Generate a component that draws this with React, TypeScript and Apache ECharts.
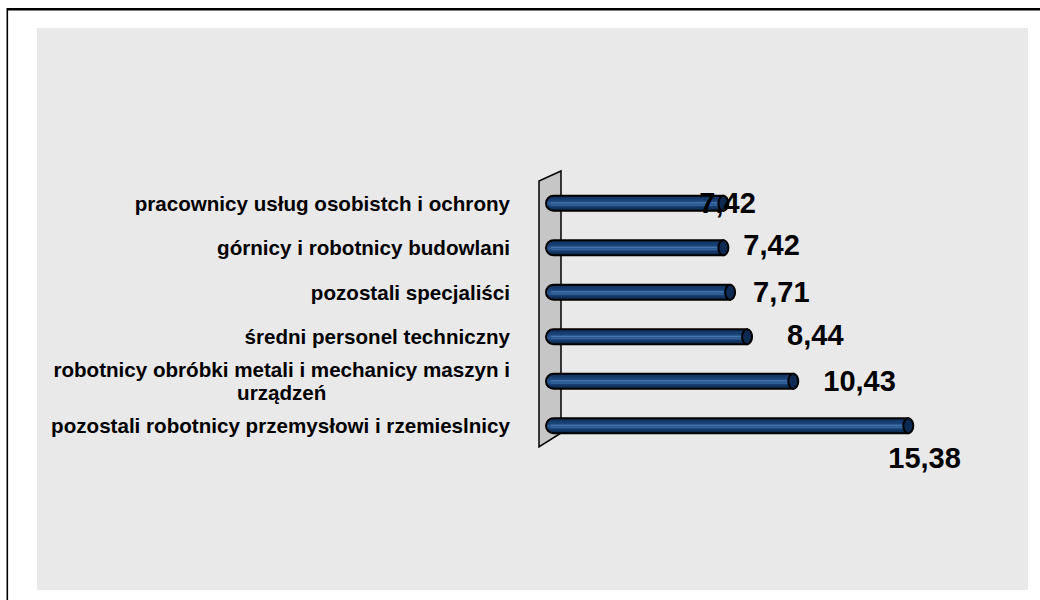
import React, { useEffect, useRef } from 'react';
import * as echarts from 'echarts';

const categories = [
  'pracownicy usług osobistch i ochrony',
  'górnicy i robotnicy budowlani',
  'pozostali specjaliści',
  'średni personel techniczny',
  'robotnicy obróbki metali i mechanicy maszyn i\nurządzeń',
  'pozostali robotnicy przemysłowi i rzemieslnicy',
];
const values = [7.42, 7.42, 7.71, 8.44, 10.43, 15.38];
const valueLabels = ['7,42', '7,42', '7,71', '8,44', '10,43', '15,38'];
// label placement relative to the bar end (dx) and bar centre (dy)
const labelDx = [-29, 15, 18, 35, 25, -25];
const labelDy = [0, -3, 0, -2, 0, 32];

const FONT = "'Liberation Sans', Arial, sans-serif";
const GRID = { left: 556, top: 181, height: 267, right: 19.4 };

export default function App() {
  const ref = useRef<HTMLDivElement>(null);
  useEffect(() => {
    if (!ref.current) return;
    const chart = echarts.init(ref.current, null, { renderer: 'svg' });
    const barFill = new echarts.graphic.LinearGradient(0, 0, 0, 1, [
      { offset: 0, color: '#0E2E5A' },
      { offset: 0.35, color: '#1B4479' },
      { offset: 0.55, color: '#2A5A94' },
      { offset: 0.75, color: '#153A6A' },
      { offset: 1, color: '#0B2548' },
    ]);
    const option: any = {
      animation: false,
      backgroundColor: '#ffffff',
      graphic: [
        { type: 'rect', shape: { x: 37, y: 28, width: 991, height: 562 }, style: { fill: '#E9E9E9' }, z: -10 },
        { type: 'rect', shape: { x: 7, y: 8, width: 1033, height: 2.5 }, style: { fill: '#000' }, z: -5 },
        { type: 'rect', shape: { x: 6.5, y: 8, width: 1.6, height: 592 }, style: { fill: '#000' }, z: -5 },
        {
          type: 'polygon',
          shape: { points: [[539, 181], [561, 171], [561, 433], [539, 447]] },
          style: { fill: '#C6C6C6', stroke: '#000', lineWidth: 1.5 },
          z: -4,
        },
      ],
      grid: { left: GRID.left, top: GRID.top, height: GRID.height, right: GRID.right, containLabel: false },
      xAxis: { type: 'value', min: 0, max: 20, show: false, splitLine: { show: false } },
      yAxis: {
        type: 'category',
        data: categories,
        inverse: true,
        axisLine: { show: false },
        axisTick: { show: false },
        splitLine: { show: false },
        axisLabel: {
          margin: 46,
          formatter: (v: string) => {
            const parts = v.split('\n');
            if (parts.length === 1) return `{a|${v}}`;
            return `{a|${parts[0]}}\n{c|${parts[1]}}`;
          },
          rich: {
            a: { fontFamily: FONT, fontSize: 20.6, fontWeight: 'bold', color: '#000', align: 'right', lineHeight: 23 },
            c: { fontFamily: FONT, fontSize: 20.6, fontWeight: 'bold', color: '#000', align: 'center', lineHeight: 23 },
          },
        },
      },
      series: [
        {
          type: 'custom',
          encode: { x: 0, y: 1 },
          data: values.map((v, i) => [v, i]),
          renderItem: (params: any, api: any) => {
            const idx = api.value(1);
            const v = api.value(0);
            const s = api.coord([0, idx]);
            const e = api.coord([v, idx]);
            const h = 15;
            const cy = s[1];
            const x0 = s[0] - 10;
            const rx = 5;
            const xe = e[0] - rx;
            return {
              type: 'group',
              children: [
                {
                  type: 'rect',
                  shape: { x: x0, y: cy - h / 2, width: xe - x0, height: h, r: [h / 2, 0, 0, h / 2] },
                  style: { fill: barFill, stroke: '#000', lineWidth: 2 },
                },
                {
                  type: 'line',
                  shape: { x1: x0 + 5, y1: cy - 0.5, x2: xe, y2: cy - 0.5 },
                  style: { stroke: '#5B88C0', lineWidth: 1, opacity: 0.8 },
                },
                {
                  type: 'line',
                  shape: { x1: x0 + 5, y1: cy + 2, x2: xe, y2: cy + 2 },
                  style: { stroke: '#4A78B0', lineWidth: 1, opacity: 0.6 },
                },
                {
                  type: 'ellipse',
                  shape: { cx: xe, cy, rx, ry: h / 2 },
                  style: { fill: '#0D2A52', stroke: '#000', lineWidth: 2 },
                },
                {
                  type: 'text',
                  x: e[0] + labelDx[idx],
                  y: cy + labelDy[idx],
                  style: {
                    text: valueLabels[idx],
                    fontFamily: FONT,
                    fontSize: 29,
                    fontWeight: 'bold',
                    fill: '#000',
                    align: 'left',
                    verticalAlign: 'middle',
                  },
                },
              ],
            };
          },
        },
      ],
    };
    chart.setOption(option);
    return () => chart.dispose();
  }, []);
  return (
    <div
      ref={ref}
      style={{ position: 'absolute', left: 0, top: 0, width: 1040, height: 600 }}
    />
  );
}
